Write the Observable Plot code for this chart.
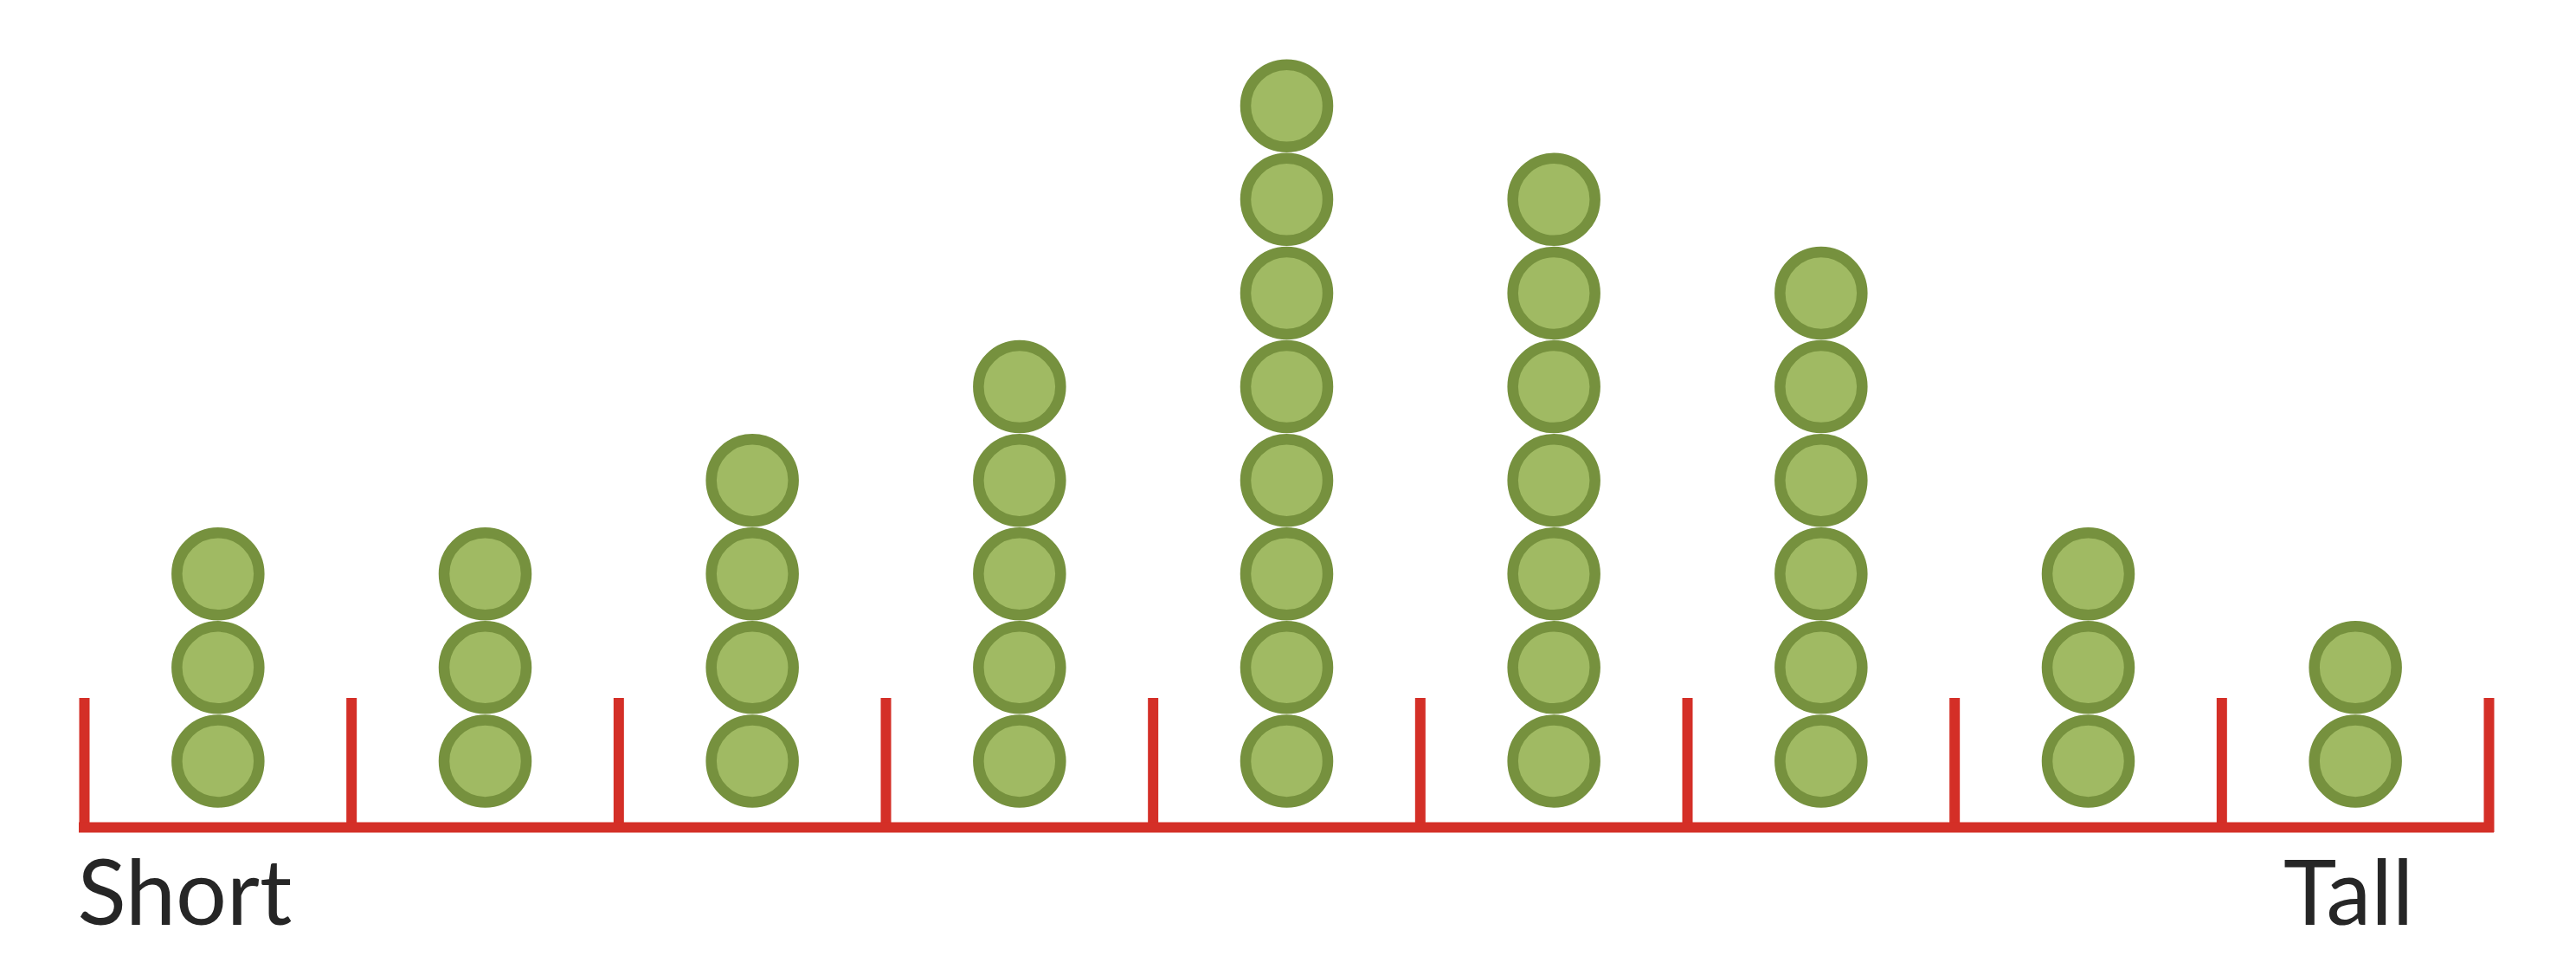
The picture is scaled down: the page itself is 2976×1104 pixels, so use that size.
<!DOCTYPE html>
<html>
<head>
<meta charset="utf-8">
<script src="https://cdn.jsdelivr.net/npm/d3@7"></script>
<script src="https://cdn.jsdelivr.net/npm/@observablehq/plot@0.6"></script>
<style>
  html, body { margin: 0; padding: 0; background: #fff; overflow: hidden; }
  #chart svg { display: block; }
</style>
</head>
<body>
<div id="chart"></div>
<script>
// Data
const bins = [0, 1, 2, 3, 4, 5, 6, 7, 8];          // bin index (short → tall)
const counts = [3, 3, 4, 5, 8, 7, 6, 3, 2];        // dots per bin
const binEdges = [0, 1, 2, 3, 4, 5, 6, 7, 8, 9];   // tick positions
const endLabels = ["Short", "Tall"];

// Build one row per dot
const dots = bins.flatMap((b, i) => d3.range(counts[i]).map(k => ({bin: b + 0.5, level: k + 0.5})));

const W = 2976, H = 1104;
const unit = 108.1;          // pixel height of one dot
const base = 955;            // pixel y of the baseline

const chart = Plot.plot({
  width: W,
  height: H,
  marginLeft: 97,
  marginRight: 101,
  marginTop: 0,
  marginBottom: H - base,
  style: {background: "#fff", overflow: "visible"},
  x: {domain: [0, 9], axis: null},
  y: {domain: [0, 8], range: [base, base - 8 * unit], axis: null},
  marks: [
    Plot.ruleX(binEdges, {x: d => d, y1: 0, y2: 143 / unit, stroke: "#d42f27", strokeWidth: 12, strokeLinecap: "square"}),
    Plot.ruleY([0], {x1: 0, x2: 9, stroke: "#d42f27", strokeWidth: 12, strokeLinecap: "square"}),
    Plot.dot(dots, {x: "bin", y: "level", r: 47.5, fill: "#a0ba63", stroke: "#76913e", strokeWidth: 12.5, dy: -22.5}),
    Plot.text([endLabels[0]], {x: binEdges[0], text: d => d, frameAnchor: "bottom", lineAnchor: "middle", textAnchor: "start", dx: -8, dy: 79,
      fontSize: 104, fontFamily: "Lato, 'Open Sans', sans-serif", fill: "#262626"}),
    Plot.text([endLabels[1]], {x: bins[bins.length - 1] + 0.5, text: d => d, frameAnchor: "bottom", lineAnchor: "middle", textAnchor: "middle", dx: -8, dy: 79,
      fontSize: 104, fontFamily: "Lato, 'Open Sans', sans-serif", fill: "#262626"})
  ]
});
document.getElementById("chart").append(chart);
</script>
</body>
</html>
